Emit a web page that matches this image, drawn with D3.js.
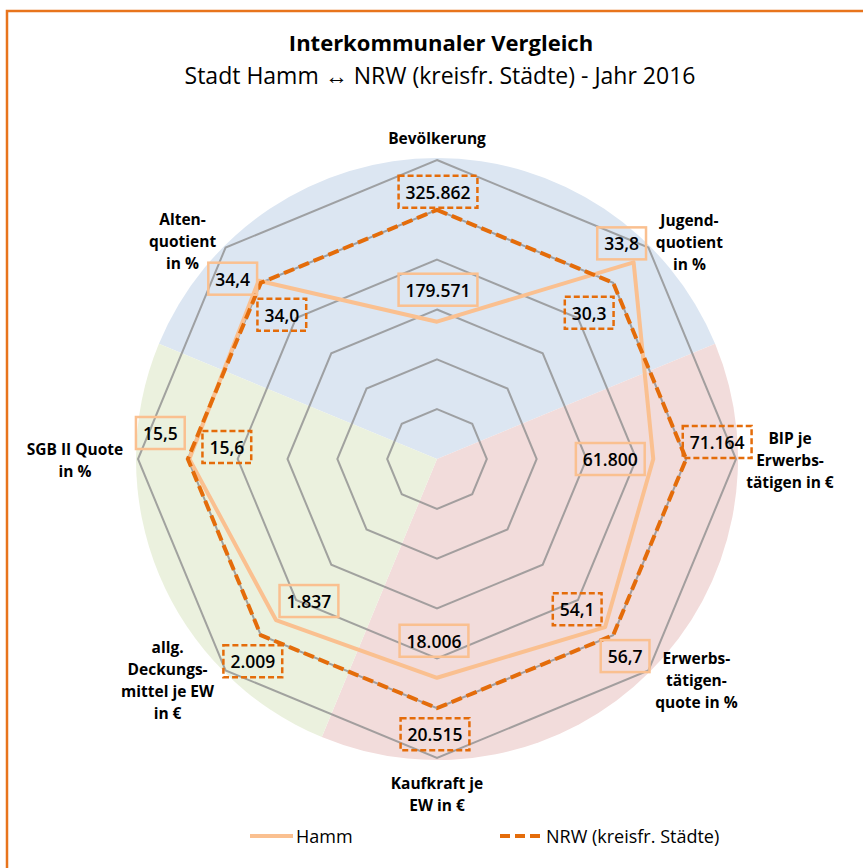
<!DOCTYPE html>
<html lang="de">
<head>
<meta charset="utf-8">
<title>Interkommunaler Vergleich</title>
<script src="https://cdn.jsdelivr.net/npm/d3@7"></script>
<style>
  body { margin: 0; background: #fff; }
  svg text { font-family: "Open Sans", "Noto Sans", sans-serif; fill: #000; }
</style>
</head>
<body>
<script>
// Achsen (im Uhrzeigersinn, oben beginnend)
var categories = [
  ["Bevölkerung"],
  ["Jugend-", "quotient", "in %"],
  ["BIP je", "Erwerbs-", "tätigen in €"],
  ["Erwerbs-", "tätigen-", "quote in %"],
  ["Kaufkraft je", "EW in €"],
  ["allg.", "Deckungs-", "mittel je EW", "in €"],
  ["SGB II Quote", "in %"],
  ["Alten-", "quotient", "in %"]
];

// Werte als Index (NRW = 100)
var hammIndex = [55.1, 111.6, 86.8, 95.4, 87.8, 91.4, 99.4, 101.2];
var nrwIndex  = [100, 100, 100, 100, 100, 100, 100, 100];

// Beschriftungen der Datenpunkte
var hammLabels = ["179.571", "33,8", "61.800", "56,7", "18.006", "1.837", "15,5", "34,4"];
var nrwLabels  = ["325.862", "30,3", "71.164", "54,1", "20.515", "2.009", "15,6", "34,0"];

var gridTicks = [20, 40, 60, 80, 100, 120];

var w = 863, h = 868;
var cx = 437, cy = 459, R = 299;

// Lage der Beschriftungen relativ zum Punkt (Pixel)
var nrwLabelOffset  = [[1, -18], [-24, 30], [31, -17], [-36, -26], [-2, 26], [-8, 26], [39, -12], [21, 32]];
var hammLabelOffset = [[1, -32], [-12, -19], [-43, 0], [20, 29], [-3, -37], [33, -19], [-29, -26], [-26, -2]];
var catLabelOffset  = [[0, -22], [41, -6], [54, 1], [48, 10], [0, 36], [-58, 10], [-63, 1], [-43, -7]];

var colHamm = "#fac090", colNrw = "#e46c0a";

var svg = d3.select("body").append("svg")
  .attr("width", w)
  .attr("height", h);

// Rahmen
svg.append("rect")
  .attr("x", 7).attr("y", 11)
  .attr("width", 950).attr("height", 950)
  .attr("fill", "none")
  .attr("stroke", "#e8741c")
  .attr("stroke-width", 2.5);

// Titel
svg.append("text")
  .attr("x", 441).attr("y", 51)
  .attr("text-anchor", "middle")
  .style("font-size", "22px")
  .style("font-weight", "bold")
  .text("Interkommunaler Vergleich");

svg.append("text")
  .attr("x", 440).attr("y", 84)
  .attr("text-anchor", "middle")
  .style("font-size", "23px")
  .text("Stadt Hamm \u2194 NRW (kreisfr. Städte) - Jahr 2016");

var n = categories.length;
var angle = d3.scaleLinear().domain([0, n]).range([0, 2 * Math.PI]);
var radius = d3.scaleLinear().domain([0, 120]).range([0, R]);

function px(i, v) { return cx + radius(v) * Math.sin(angle(i)); }
function py(i, v) { return cy - radius(v) * Math.cos(angle(i)); }

var g = svg.append("g").attr("transform", "translate(" + cx + "," + cy + ")");

// Hintergrundsektoren
var sectors = [
  { s: -1.5, e: 1.5, c: "#dce6f2" },
  { s: 1.5, e: 4.5, c: "#f2dcdb" },
  { s: 4.5, e: 6.5, c: "#ebf1de" }
];
var arc = d3.arc().innerRadius(0).outerRadius(R + 2);
g.selectAll("path.sector")
  .data(sectors)
  .enter().append("path")
  .attr("class", "sector")
  .attr("d", function(d) { return arc({ startAngle: angle(d.s), endAngle: angle(d.e) }); })
  .attr("fill", function(d) { return d.c; });

// Gitternetz
var idx = d3.range(n);
var radial = d3.lineRadial()
  .angle(function(d) { return angle(d[0]); })
  .radius(function(d) { return radius(d[1]); })
  .curve(d3.curveLinearClosed);

g.selectAll("path.grid")
  .data(gridTicks)
  .enter().append("path")
  .attr("class", "grid")
  .attr("d", function(t) { return radial(idx.map(function(i) { return [i, t]; })); })
  .attr("fill", "none")
  .attr("stroke", "#8f8f8f")
  .attr("stroke-opacity", 0.8)
  .attr("stroke-width", 2);

// Linien
g.append("path")
  .attr("d", radial(hammIndex.map(function(v, i) { return [i, v]; })))
  .attr("fill", "none")
  .attr("stroke", colHamm)
  .attr("stroke-width", 4)
  .attr("stroke-linejoin", "round");

g.append("path")
  .attr("d", radial(nrwIndex.map(function(v, i) { return [i, v]; })))
  .attr("fill", "none")
  .attr("stroke", colNrw)
  .attr("stroke-width", 4)
  .attr("stroke-dasharray", "11,5");

// Datenbeschriftungen
function addLabels(values, labels, offsets, color, dashed) {
  values.forEach(function(v, i) {
    var x = px(i, v) + offsets[i][0];
    var y = py(i, v) + offsets[i][1];
    var lg = svg.append("g");
    var t = lg.append("text")
      .attr("x", x).attr("y", y)
      .attr("text-anchor", "middle")
      .attr("dominant-baseline", "central")
      .style("font-size", "17.5px")
      .style("font-weight", "600")
      .text(labels[i]);
    var bw = t.node().getBBox().width + 14;
    lg.insert("rect", "text")
      .attr("x", x - bw / 2).attr("y", y - 16)
      .attr("width", bw).attr("height", 32)
      .attr("fill", "none")
      .attr("stroke", color)
      .attr("stroke-width", 2.5)
      .attr("stroke-dasharray", dashed ? "6,3" : null);
  });
}
addLabels(hammIndex, hammLabels, hammLabelOffset, colHamm, false);
addLabels(nrwIndex, nrwLabels, nrwLabelOffset, colNrw, true);

// Achsenbeschriftungen
categories.forEach(function(lines, i) {
  var x = px(i, 120) + catLabelOffset[i][0];
  var y = py(i, 120) + catLabelOffset[i][1];
  var t = svg.append("text")
    .attr("text-anchor", "middle")
    .style("font-size", "15.5px")
    .style("font-weight", "bold");
  lines.forEach(function(s, k) {
    t.append("tspan")
      .attr("x", x)
      .attr("y", y + (k - (lines.length - 1) / 2) * 22)
      .attr("dominant-baseline", "central")
      .text(s);
  });
});

// Legende
var legend = [
  { name: "Hamm", color: colHamm, dash: null, x: 250 },
  { name: "NRW (kreisfr. Städte)", color: colNrw, dash: "10,5", x: 500 }
];
var lg = svg.selectAll("g.legend")
  .data(legend)
  .enter().append("g")
  .attr("class", "legend")
  .attr("transform", function(d) { return "translate(" + d.x + ",836)"; });
lg.append("line")
  .attr("x1", 0).attr("x2", 43)
  .attr("stroke", function(d) { return d.color; })
  .attr("stroke-width", 4)
  .attr("stroke-dasharray", function(d) { return d.dash; });
lg.append("text")
  .attr("x", 46)
  .attr("dominant-baseline", "central")
  .style("font-size", "18px")
  .text(function(d) { return d.name; });
</script>
</body>
</html>
